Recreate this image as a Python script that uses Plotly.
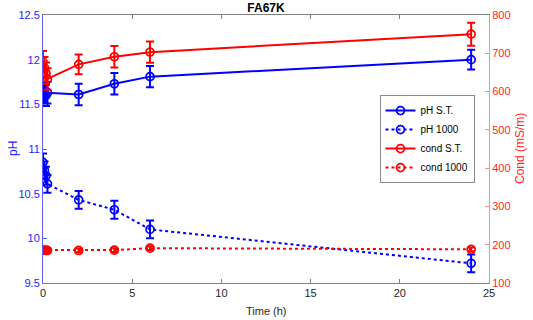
import plotly.graph_objects as go

time_h = [0, 0.083, 0.167, 0.25, 2, 4, 6, 24]
ph_st = [11.60, 11.62, 11.60, 11.63, 11.61, 11.73, 11.81, 12.00]
ph_st_err = [0.12, 0.12, 0.12, 0.12, 0.12, 0.12, 0.12, 0.11]
ph_1000 = [10.85, 10.76, 10.70, 10.61, 10.43, 10.32, 10.10, 9.72]
ph_1000_err = [0.10, 0.10, 0.10, 0.10, 0.10, 0.10, 0.10, 0.10]
cond_st = [678, 662, 648, 633, 671, 691, 703, 750]
cond_st_err = [28, 28, 28, 28, 26, 28, 28, 30]
cond_1000 = [186, 186, 185, 185, 185, 186, 191, 188]
cond_1000_err = [5, 5, 5, 5, 5, 5, 5, 5]

BLUE = "#0000ff"
RED = "#ff0000"
FONT = "Liberation Sans, Arial, sans-serif"

def trace(y, err, name, color, dash, axis):
    return go.Scatter(
        x=time_h, y=y, name=name, yaxis=axis,
        mode="lines+markers",
        line=dict(color=color, width=2, dash=dash),
        marker=dict(symbol="circle-open", size=8, color=color, line=dict(width=1.7, color=color)),
        error_y=dict(type="data", array=err, visible=True, color=color, thickness=2, width=4),
    )

fig = go.Figure()
fig.add_trace(trace(ph_st, ph_st_err, "pH S.T.", BLUE, "solid", "y"))
fig.add_trace(trace(ph_1000, ph_1000_err, "pH 1000", BLUE, "dot", "y"))
fig.add_trace(trace(cond_st, cond_st_err, "cond S.T.", RED, "solid", "y2"))
fig.add_trace(trace(cond_1000, cond_1000_err, "cond 1000", RED, "dot", "y2"))

fig.update_layout(
    width=533, height=320,
    margin=dict(l=43, r=44, t=15, b=37, autoexpand=False),
    paper_bgcolor="white", plot_bgcolor="white",
    font=dict(family=FONT, size=11, color="#262626"),
    title=dict(text="<b>FA67K</b>", x=0.5, xanchor="center", xref="paper",
               y=1 - 7.5 / 320, yref="container", yanchor="middle", pad=dict(t=0, b=0),
               font=dict(size=12, color="#000000")),
    showlegend=True,
    legend=dict(x=0.861, y=0.537, xanchor="center", yanchor="middle",
                bgcolor="white", bordercolor="#8c8c8c", borderwidth=1,
                font=dict(size=10, color="#000000"), tracegroupgap=0,
                itemwidth=30),
    xaxis=dict(range=[0, 25], tickvals=[0, 5, 10, 15, 20, 25],
               showline=True, linecolor="#808080", linewidth=1, mirror="ticks",
               ticks="inside", ticklen=4, tickcolor="#808080",
               showgrid=False, zeroline=False, automargin=False,
               tickfont=dict(size=11, color="#262626")),
    yaxis=dict(range=[9.5, 12.5], tickvals=[9.5, 10, 10.5, 11, 11.5, 12, 12.5],
               ticktext=["9.5", "10", "10.5", "11", "11.5", "12", "12.5"],
               showline=True, linecolor="#5c5cff", linewidth=1,
               ticks="inside", ticklen=4, tickcolor="#5c5cff",
               showgrid=False, zeroline=False, automargin=False,
               tickfont=dict(size=11, color="#2424ff")),
    yaxis2=dict(range=[100, 800], tickvals=[100, 200, 300, 400, 500, 600, 700, 800],
                overlaying="y", side="right", anchor="x",
                showline=True, linecolor="#ff8c8c", linewidth=1,
                ticks="inside", ticklen=4, tickcolor="#ff8c8c",
                showgrid=False, zeroline=False, automargin=False,
                tickfont=dict(size=11, color="#ff2424")),
    annotations=[
        dict(text="pH", xref="paper", yref="paper", x=0, y=0.5, xshift=-30,
             xanchor="center", yanchor="middle", textangle=-90, showarrow=False,
             font=dict(size=12, color="#2424ff")),
        dict(text="Cond (mS/m)", xref="paper", yref="paper", x=1, y=0.5, xshift=31,
             xanchor="center", yanchor="middle", textangle=-90, showarrow=False,
             font=dict(size=12, color="#ff2424")),
        dict(text="Time (h)", xref="paper", yref="paper", x=0.5, y=0, yshift=-28,
             xanchor="center", yanchor="middle", showarrow=False,
             font=dict(size=11, color="#262626")),
    ],
)

# remove the browser's default 8px body margin so the figure sits at the page origin
fig.write_html("out.html", config={"displayModeBar": False},
               post_script="document.body.style.margin='0';")
